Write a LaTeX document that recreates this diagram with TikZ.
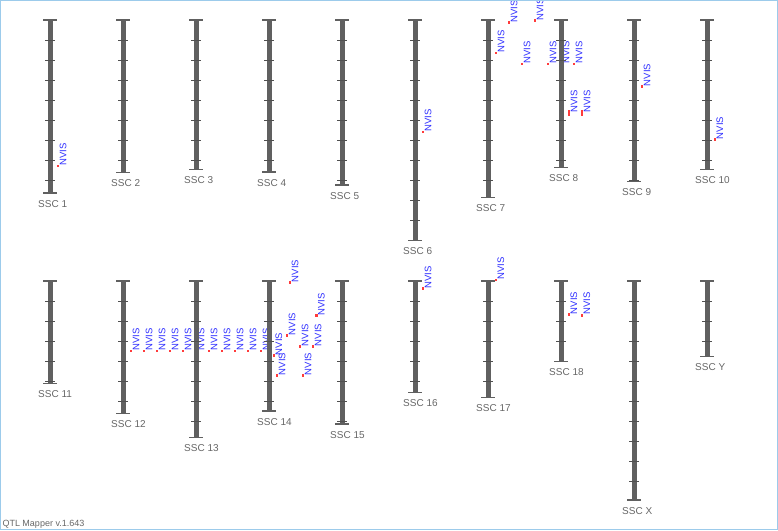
\documentclass[tikz,border=0pt]{standalone}
\usepackage{fontspec}
\setmainfont{Liberation Sans}
\definecolor{barg}{HTML}{606060}
\definecolor{tickg}{HTML}{505050}
\definecolor{labg}{HTML}{666666}
\definecolor{qblue}{HTML}{2E2EFF}
\definecolor{qred}{HTML}{FF3B3B}
\definecolor{frameblue}{HTML}{9CCBEB}
\tikzset{
  chrbar/.style={draw=barg, line width=5pt},
  chrcap/.style={draw=barg, line width=1.4pt},
  chrtick/.style={draw=tickg, line width=0.9pt},
  chrlab/.style={font=\fontsize{10}{12}\selectfont, text=labg, anchor=base west, inner sep=0pt},
  qtlmark/.style={fill=qred},
  qtltext/.style={font=\fontsize{9.5}{11}\selectfont, text=qblue, rotate=90,
                  anchor=north west, inner sep=0pt},
}

\begin{document}
\begin{tikzpicture}[x=1pt,y=-1pt,
  vers/.style={font=\fontsize{9}{11}\selectfont, text=labg, anchor=base west, inner sep=0pt},
]
\useasboundingbox (0,0) rectangle (778,530);

\begin{scope}
\clip (0,0) rectangle (778,530);

% ---------------- QTL markers (x / y / height of mark) ----------------
\foreach \mx/\my/\mh [count=\i] in {
    58/166/2.5, 423/132/2.5, 496/53/2.5, 509/22.7/2.5, 535/20.5/2.5,
    522/64/2.5, 548/64/2.5, 561/64/2.5, 574/64/2.5,
    569/113/5.7, 582/113/5.7, 642/86.3/2.5, 714.7/139.3/2.5,
    131/351/2.5, 144/351/2.5, 157/351/2.5, 170/351/2.5, 183/351/2.5,
    196/351/2.5, 209/351/2.5, 222/351/2.5, 235/351/2.5, 248/351/2.5,
    261/351/2.5, 273.7/355.3/2.5, 277/375.3/2.5, 287/335.3/2.5,
    290/282.3/2.5, 300/346.3/2.5, 303/375.3/2.5, 313/346.3/2.5,
    316.3/315.7/2.5, 423/288.7/2.5, 495.7/280/2.5,
    568.7/314.3/3, 581.7/315/3} {
  \fill[qtlmark] (\mx-1.2,\my-\mh/2) rectangle ++(2.5,\mh);
  \node[qtltext] (q\i) at (\mx+1.6,\my) {NVIS};
}

% ---------------- chromosomes (name / x / top / bottom) ----------------
\foreach \n/\x/\t/\b in {
    1/50/20/193, 2/123/20/172.5, 3/196/20/169.5, 4/269/20/172,
    5/342/20/185, 6/415/20/240.7, 7/488/20/197.3, 8/561/20/167.3,
    9/634/20/181.7, 10/707/20/169.3,
    11/50/281/383.7, 12/123/281/413.3, 13/196/281/437.3, 14/269/281/411,
    15/342/281/424, 16/415/281/392.7, 17/488/281/397.3, 18/561/281/361.5,
    X/634/281/500, Y/707/281/356.7} {
  \draw[chrbar] (\x,\t) -- (\x,\b);
  \foreach \k in {1,...,11} {
    \pgfmathsetmacro\yy{\t+20*\k}
    \ifdim\yy pt<\b pt
      \draw[chrtick] (\x-5,\yy) -- (\x+5,\yy);
    \fi
  }
  \draw[chrcap] (\x-7,\t) -- (\x+7,\t);
  \draw[chrcap] (\x-7,\b) -- (\x+7,\b);
  \node[chrlab] (ssc\n) at (\x-12,\b+14) {SSC \n};
}
\end{scope}

% ---------------- footer and frame ----------------
\node[vers] (ver) at (2.3,526) {QTL Mapper v.1.643};
\draw[frameblue, line width=1pt] (0.5,0.5) rectangle (777.5,529.5);

\end{tikzpicture}
\end{document}
